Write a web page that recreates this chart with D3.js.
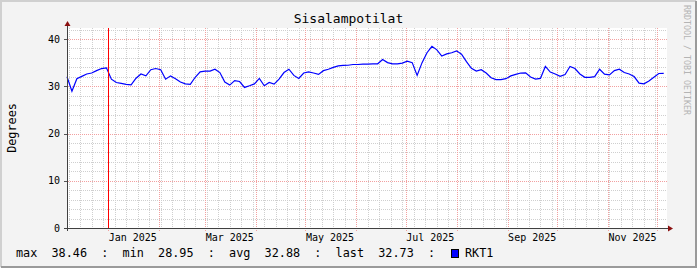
<!DOCTYPE html>
<html>
<head>
<meta charset="utf-8">
<script src="https://cdn.jsdelivr.net/npm/d3@7"></script>
<style>
  body { margin: 0; background: #f3f3f3; }
  svg { display: block; }
  text { font-family: "DejaVu Sans Mono", monospace; }
</style>
</head>
<body>
<svg width="697" height="268"></svg>
<script>

// readings every 3 days, starting 2024-12-07
const startDate = "2024-12-07";
const endDate = "2025-12-07";
const stepDays = 3;
const temps = [
    32.0, 28.95, 31.6, 32.1, 32.6, 32.8, 33.3, 33.75, 33.9, 31.5,
    30.8, 30.6, 30.4, 30.3, 31.7, 32.6, 32.2, 33.5, 33.75, 33.5,
    31.5, 32.2, 31.6, 30.9, 30.5, 30.4, 31.9, 33.05, 33.2, 33.2,
    33.6, 32.9, 30.9, 30.25, 31.2, 31.0, 29.75, 30.1, 30.5, 31.65,
    30.1, 30.8, 30.45, 31.5, 32.9, 33.6, 32.3, 31.65, 32.8, 33.05,
    32.8, 32.5, 33.3, 33.6, 34.0, 34.3, 34.4, 34.45, 34.6, 34.6,
    34.7, 34.7, 34.75, 34.75, 35.65, 35.0, 34.75, 34.75, 34.9, 35.3,
    35.0, 32.3, 35.0, 37.1, 38.46, 37.7, 36.4, 36.85, 37.1, 37.5,
    36.8, 35.2, 33.8, 33.2, 33.5, 32.8, 31.8, 31.4, 31.4, 31.6,
    32.2, 32.5, 32.8, 32.85, 31.95, 31.5, 31.65, 34.2, 33.0, 32.6,
    32.1, 32.5, 34.2, 33.75, 32.6, 31.9, 31.9, 32.05, 33.6, 32.55,
    32.4, 33.3, 33.6, 32.9, 32.6, 32.05, 30.65, 30.5, 31.1, 31.9,
    32.7, 32.73
];

const yTicks = [0, 10, 20, 30, 40];
const monthLabels = ["Jan 2025", "Mar 2025", "May 2025", "Jul 2025", "Sep 2025", "Nov 2025"];
const monthLabelDates = ["2025-01-16", "2025-03-16", "2025-05-16", "2025-07-16", "2025-09-16", "2025-11-16"];
const vruleDate = "2025-01-01";
const legendNames = ["max", "min", "avg", "last"];
const legendValues = ["38.46", "28.95", "32.88", "32.73"];
const seriesName = "RKT1";

const parse = d3.utcParse("%Y-%m-%d");
const t0 = parse(startDate), t1 = parse(endDate);
const data = temps.map((v, i) => ({ date: d3.utcDay.offset(t0, i * stepDays), v: v }));

const svg = d3.select("svg");
const W = 697, H = 268;
const pLeft = 67, pRight = 667, pTop = 28, pBottom = 228;

// frame
svg.append("rect").attr("width", W).attr("height", H).attr("fill", "#f3f3f3");
svg.append("path").attr("d", `M1,${H - 1}V1H${W - 1}`).attr("fill", "none").attr("stroke", "#d0d0d0").attr("stroke-width", 2);
svg.append("path").attr("d", `M1,${H - 1}H${W - 1}V1`).attr("fill", "none").attr("stroke", "#9a9a9a").attr("stroke-width", 2);

const x = d3.scaleUtc().domain([t0, t1]).range([pLeft, pRight]);
const y = d3.scaleLinear().domain([0, 42.33]).range([pBottom, pTop]);
const px = v => Math.round(v) + 0.5;

svg.append("rect").attr("x", pLeft).attr("y", pTop).attr("width", pRight - pLeft).attr("height", pBottom - pTop).attr("fill", "#fff");

// minor grid
const g = svg.append("g");
const minorY = d3.range(2, 43, 2).filter(d => d % 10 !== 0);
g.selectAll(".hmin").data(minorY).enter().append("line")
    .attr("x1", pLeft).attr("x2", pRight)
    .attr("y1", d => px(y(d))).attr("y2", d => px(y(d)))
    .attr("stroke", "#cfcfcf").attr("stroke-dasharray", "1,1");

const weeks = d3.utcSunday.range(t0, t1).filter(d => d.getUTCDate() !== 1);
g.selectAll(".vmin").data(weeks).enter().append("line")
    .attr("x1", d => px(x(d))).attr("x2", d => px(x(d)))
    .attr("y1", pTop).attr("y2", pBottom)
    .attr("stroke", "#cfcfcf").attr("stroke-dasharray", "1,1");

// major grid
const months = d3.utcMonth.range(t0, t1);
g.selectAll(".vmaj").data(months).enter().append("line")
    .attr("x1", d => px(x(d))).attr("x2", d => px(x(d)))
    .attr("y1", pTop).attr("y2", pBottom + 3)
    .attr("stroke", "#f2a0a0").attr("stroke-dasharray", "1,1");

g.selectAll(".hmaj").data(yTicks).enter().append("line")
    .attr("x1", pLeft - 3).attr("x2", pRight + 1)
    .attr("y1", d => px(y(d))).attr("y2", d => px(y(d)))
    .attr("stroke", "#f2a0a0").attr("stroke-dasharray", "1,1");

// y ticks
svg.selectAll(".ytick").data(yTicks).enter().append("line")
    .attr("x1", pLeft - 3).attr("x2", pLeft)
    .attr("y1", d => px(y(d))).attr("y2", d => px(y(d)))
    .attr("stroke", "#555");

svg.selectAll(".ylab").data(yTicks).enter().append("text")
    .attr("x", 60).attr("y", d => y(d) + 3.5)
    .attr("text-anchor", "end").attr("font-size", 10).attr("fill", "#000")
    .text(d => d);

svg.selectAll(".xlab").data(monthLabels).enter().append("text")
    .attr("x", (d, i) => x(parse(monthLabelDates[i])))
    .attr("y", 241)
    .attr("text-anchor", "middle").attr("font-size", 10).attr("fill", "#000")
    .text(d => d);

// series
const line = d3.line().x(d => x(d.date)).y(d => y(d.v));
svg.append("path").datum(data)
    .attr("d", line)
    .attr("fill", "none").attr("stroke", "#0000ff").attr("stroke-width", 1.2);

// vrule
svg.append("line")
    .attr("x1", px(x(parse(vruleDate)))).attr("x2", px(x(parse(vruleDate))))
    .attr("y1", pTop).attr("y2", pBottom)
    .attr("stroke", "#ff0000");

// axes with arrows
svg.append("line").attr("x1", px(pLeft)).attr("x2", px(pLeft)).attr("y1", pBottom + 3).attr("y2", pTop - 3).attr("stroke", "#404040");
svg.append("line").attr("x1", pLeft - 3).attr("x2", pRight + 3).attr("y1", px(pBottom)).attr("y2", px(pBottom)).attr("stroke", "#404040");
svg.append("path").attr("d", `M${pLeft - 2.5},${pTop - 2}L${pLeft + 0.5},${pTop - 7}L${pLeft + 3.5},${pTop - 2}Z`).attr("fill", "#8b1010");
svg.append("path").attr("d", `M${pRight + 1},${pBottom - 2.5}L${pRight + 6},${pBottom + 0.5}L${pRight + 1},${pBottom + 3.5}Z`).attr("fill", "#8b1010");

// title and labels
svg.append("text").attr("x", 348.5).attr("y", 23).attr("text-anchor", "middle")
    .attr("font-size", 13).attr("fill", "#000").text("Sisalampotilat");

svg.append("text").attr("transform", "translate(15.5,128) rotate(-90)")
    .attr("text-anchor", "middle").attr("font-size", 11.8).attr("fill", "#000").text("Degrees");

svg.append("text").attr("transform", "translate(683.5,5) rotate(90)")
    .attr("font-size", 8.3).attr("fill", "#b4b4b4").text("RRDTOOL / TOBI OETIKER");

// legend
const legendStr = legendNames.map((n, i) => n + "  " + legendValues[i] + "  :").join("  ");
svg.append("text").attr("x", 16).attr("y", 257)
    .attr("xml:space", "preserve").style("white-space", "pre")
    .attr("font-size", 11.8).attr("fill", "#000").text(legendStr);

svg.append("rect").attr("x", 451.5).attr("y", 249.5).attr("width", 7).attr("height", 8)
    .attr("fill", "#0000ff").attr("stroke", "#000");
svg.append("text").attr("x", 465).attr("y", 257)
    .attr("font-size", 11.8).attr("fill", "#000").text(seriesName);

</script>
</body>
</html>
